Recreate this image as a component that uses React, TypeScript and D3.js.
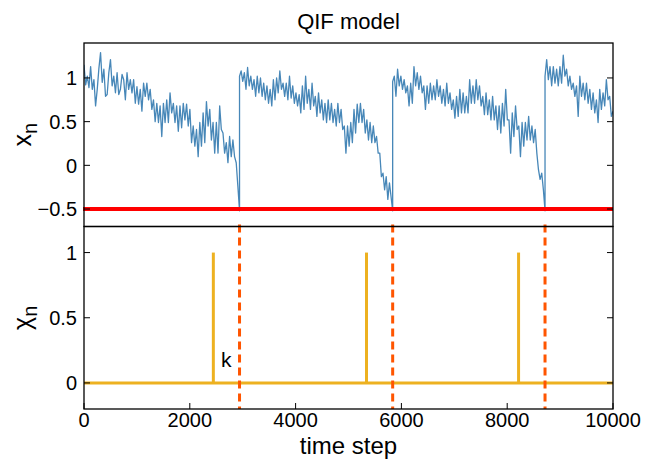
import React from "react";
import * as d3 from "d3";

// ---- data ----
const xTicks = [0, 2000, 4000, 6000, 8000, 10000];
const topTicks = [-0.5, 0, 0.5, 1];
const botTicks = [0, 0.5, 1];
const threshold = -0.5;
const resetTimes = [2940, 5835, 8715]; // threshold crossings (dashed lines)
const spikeTimes = [2445, 5340, 8215]; // chi_n = 1 events
const spikeValues = [1, 1, 1];
const segBounds = [0, 2940, 5835, 8715, 10000];

const xnSeg1 = [1.15, 0.92, 1.02, 0.89, 1.13, 0.87, 0.98, 0.68, 0.87, 1.11, 1.29, 0.95, 1.10, 0.79, 0.81, 1.06, 1.21, 0.91, 1.02, 0.83, 1.06, 0.81, 0.87, 1.04, 0.98, 0.75, 1.06, 0.87, 0.98, 0.83, 0.98, 0.71, 0.90, 0.70, 0.87, 0.62, 0.94, 0.79, 0.94, 0.75, 0.87, 0.64, 0.75, 0.50, 0.71, 0.49, 0.68, 0.33, 0.71, 0.49, 0.75, 0.49, 0.83, 0.60, 0.71, 0.49, 0.68, 0.39, 0.68, 0.43, 0.71, 0.52, 0.70, 0.45, 0.64, 0.26, 0.45, 0.22, 0.41, 0.10, 0.49, 0.22, 0.60, 0.26, 0.73, 0.45, 0.64, 0.29, 0.49, 0.14, 0.49, 0.14, 0.68, 0.41, 0.37, 0.14, 0.26, 0.03, 0.33, 0.10, 0.29, 0.10, 0.03, -0.24, -0.52];
const xnSeg2 = [1.02, 1.08, 0.96, 1.06, 0.87, 1.12, 0.91, 1.02, 0.87, 0.98, 0.79, 1.02, 0.83, 1.00, 0.79, 0.94, 0.75, 0.91, 0.71, 0.87, 0.68, 0.98, 0.75, 1.00, 0.83, 1.08, 0.87, 0.94, 0.79, 0.94, 0.75, 1.02, 0.77, 0.91, 0.71, 0.83, 0.68, 0.81, 0.60, 0.91, 0.64, 1.02, 0.71, 0.87, 0.64, 0.94, 0.68, 0.79, 0.56, 0.83, 0.60, 0.75, 0.52, 0.71, 0.49, 0.75, 0.52, 0.71, 0.49, 0.64, 0.45, 0.71, 0.49, 0.64, 0.41, 0.45, 0.14, 0.45, 0.22, 0.49, 0.26, 0.64, 0.37, 0.70, 0.49, 0.71, 0.49, 0.64, 0.37, 0.52, 0.29, 0.49, 0.26, 0.45, 0.26, 0.33, 0.14, 0.14, -0.13, -0.09, -0.28, -0.13, -0.39, -0.20, -0.36, -0.52];
const xnSeg3 = [0.96, 1.02, 0.79, 1.10, 0.91, 1.02, 0.87, 0.98, 0.83, 0.91, 0.68, 0.94, 0.71, 1.13, 0.91, 1.06, 0.87, 1.02, 0.83, 0.91, 0.64, 0.91, 0.71, 0.94, 0.75, 0.91, 0.75, 0.98, 0.79, 0.91, 0.71, 0.87, 0.68, 0.94, 0.71, 0.83, 0.64, 0.75, 0.54, 0.79, 0.56, 0.87, 0.60, 0.83, 0.60, 0.79, 0.60, 0.98, 0.71, 0.91, 0.71, 0.98, 0.75, 0.91, 0.68, 0.79, 0.58, 0.83, 0.58, 0.75, 0.52, 0.79, 0.52, 0.68, 0.41, 0.68, 0.37, 0.71, 0.45, 0.87, 0.52, 0.52, 0.14, 0.60, 0.33, 0.68, 0.41, 0.45, 0.10, 0.49, 0.22, 0.49, 0.29, 0.56, 0.29, 0.45, 0.26, 0.41, 0.14, -0.05, -0.16, -0.09, -0.28, -0.52];
const xnSeg4 = [1.02, 1.21, 0.98, 1.13, 0.91, 1.13, 0.94, 1.10, 0.91, 1.13, 0.94, 1.26, 1.02, 1.10, 0.91, 1.02, 0.87, 0.94, 0.79, 0.91, 0.56, 1.02, 0.79, 0.94, 0.75, 0.94, 0.71, 0.87, 0.64, 0.83, 0.60, 0.75, 0.49, 0.87, 0.64, 0.83, 0.68, 0.98, 0.75, 0.79, 0.56, 0.62];
const xnSegments = [xnSeg1, xnSeg2, xnSeg3, xnSeg4];

// ---- layout ----
const W = 662, H = 462;
const L = 84, R = 613, T = 43, MID = 226.5, B = 409;
const FONT = "'Liberation Sans', Arial, Helvetica, sans-serif";

const fmt = (v: number) => (v < 0 ? "\u2212" + String(-v) : String(v));

export default function App() {
  const x = d3.scaleLinear().domain([0, 10000]).range([L, R]);
  const yT = d3.scaleLinear().domain([-0.7, 1.4]).range([MID, T]);
  const yB = d3.scaleLinear().domain([-0.2, 1.2]).range([B, MID]);

  const pts: [number, number][] = [];
  xnSegments.forEach((seg, si) => {
    const t0 = segBounds[si], t1 = segBounds[si + 1];
    const n = seg.length;
    seg.forEach((v, i) => {
      const t = t0 + ((t1 - t0) * i) / (n - 1);
      pts.push([t, v]);
    });
  });
  const line = d3.line<[number, number]>().x((d) => x(d[0])).y((d) => yT(d[1]));

  const tickLen = 6;
  return (
    <svg width={W} height={H} style={{ position: "absolute", left: 0, top: 0, background: "#fff" }} fontFamily={FONT}>
      <defs>
        <clipPath id="clipTop"><rect x={L} y={T} width={R - L} height={MID - T} /></clipPath>
      </defs>
      <rect x={0} y={0} width={W} height={H} fill="#fff" />
      {/* title */}
      <text x={(L + R) / 2} y={29} textAnchor="middle" fontSize={22} fill="#000">QIF model</text>

      {/* top panel */}
      <g clipPath="url(#clipTop)">
        <path d={line(pts) || ""} fill="none" stroke="#4787b8" strokeWidth={1.3} strokeLinejoin="round" />
      </g>
      <line x1={L - 1} x2={R} y1={yT(threshold)} y2={yT(threshold)} stroke="#ff0000" strokeWidth={4} />

      {/* bottom panel */}
      <line x1={L} x2={R} y1={yB(0)} y2={yB(0)} stroke="#edb120" strokeWidth={3} />
      {spikeTimes.map((t, i) => (
        <line key={"s" + i} x1={x(t)} x2={x(t)} y1={yB(0)} y2={yB(spikeValues[i])} stroke="#edb120" strokeWidth={3} />
      ))}
      {resetTimes.map((t, i) => (
        <line key={"d" + i} x1={x(t)} x2={x(t)} y1={MID - 2} y2={B} stroke="#ff5500" strokeWidth={3} strokeDasharray="8,5" />
      ))}
      <text x={221} y={367} fontSize={21} fill="#000">k</text>

      {/* frames */}
      <rect x={L} y={T} width={R - L} height={MID - T} fill="none" stroke="#000" strokeWidth={1.3} />
      <rect x={L} y={MID} width={R - L} height={B - MID} fill="none" stroke="#000" strokeWidth={1.3} />

      {/* top y ticks */}
      {topTicks.map((v) => (
        <g key={"ty" + v}>
          <line x1={L} x2={L + tickLen} y1={yT(v)} y2={yT(v)} stroke="#000" strokeWidth={1} />
          <line x1={R} x2={R - tickLen} y1={yT(v)} y2={yT(v)} stroke="#000" strokeWidth={1} />
          <text x={77} y={yT(v)} dy="0.36em" textAnchor="end" fontSize={20} fill="#000">{fmt(v)}</text>
        </g>
      ))}
      {/* bottom y ticks */}
      {botTicks.map((v) => (
        <g key={"by" + v}>
          <line x1={L} x2={L + tickLen} y1={yB(v)} y2={yB(v)} stroke="#000" strokeWidth={1} />
          <line x1={R} x2={R - tickLen} y1={yB(v)} y2={yB(v)} stroke="#000" strokeWidth={1} />
          <text x={77} y={yB(v)} dy="0.36em" textAnchor="end" fontSize={20} fill="#000">{fmt(v)}</text>
        </g>
      ))}
      {/* x ticks */}
      {xTicks.map((v) => (
        <g key={"x" + v}>
          <line x1={x(v)} x2={x(v)} y1={B} y2={B - tickLen} stroke="#000" strokeWidth={1} />
          <text x={x(v)} y={427} textAnchor="middle" fontSize={20} fill="#000">{fmt(v)}</text>
        </g>
      ))}

      {/* axis labels */}
      <text x={(L + R) / 2} y={454} textAnchor="middle" fontSize={24} fill="#000">time step</text>
      <text transform={`translate(31,${(T + MID) / 2}) rotate(-90)`} textAnchor="middle" fontSize={25} fill="#000">
        x<tspan fontSize={20} dy={6}>n</tspan>
      </text>
      <text transform={`translate(31,${(MID + B) / 2}) rotate(-90)`} textAnchor="middle" fontSize={25} fill="#000">
        χ<tspan fontSize={20} dy={6}>n</tspan>
      </text>
    </svg>
  );
}
